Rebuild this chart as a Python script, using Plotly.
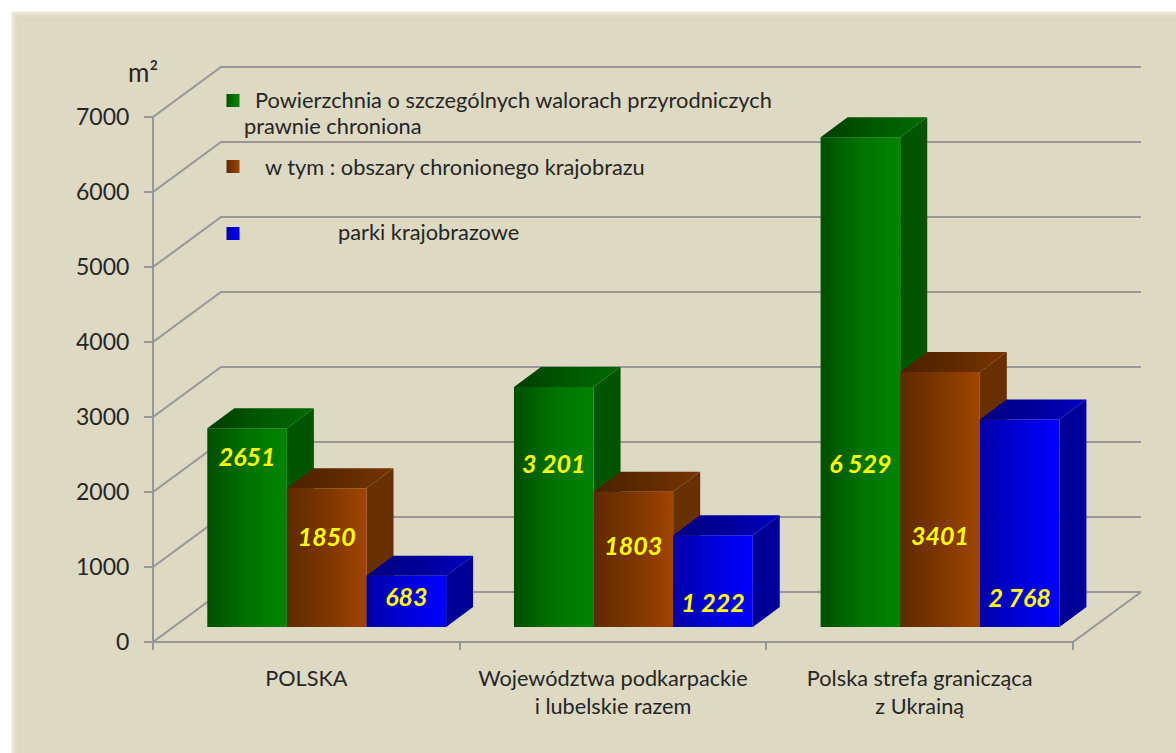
import plotly.graph_objects as go

# ---- data -------------------------------------------------------------
categories = ["POLSKA", "Województwa podkarpackie<br>i lubelskie razem", "Polska strefa granicząca<br>z Ukrainą"]
protected_total = [2651, 3201, 6529]
landscape_areas = [1850, 1803, 3401]
landscape_parks = [683, 1222, 2768]
total_labels = ["2651", "3 201", "6 529"]
areas_labels = ["1850", "1803", "3401"]
parks_labels = ["683", "1 222", "2 768"]
total_label_y = [2430, 2340, 2340]
areas_label_y = [1360, 1240, 1380]
parks_label_y = [560, 480, 550]
y_ticks = [0, 1000, 2000, 3000, 4000, 5000, 6000, 7000]

# ---- geometry / style --------------------------------------------------
W, H = 1176, 753
X0, X3, Y0, Y7 = 153, 1073, 642, 117      # pixel box of the front axes
PLOT_R, PLOT_T = 1150, 60                 # plot area extends over the back wall
PXU = (X3 - X0) / 3
PYU = (Y0 - Y7) / 7000
def xd(px): return (px - X0) / PXU
def yd(py): return (Y0 - py) / PYU
def px_x(px): return px / W
def px_y(py): return 1 - py / H

WALL_DX, WALL_DY = 68 / PXU, 50 / PYU
BAR_BASE = 15 / PYU
BAR_START = 54.3 / PXU
BAR_W = 79.6 / PXU
BAR_DX, BAR_DY = 27 / PXU, 20 / PYU
LINE = "#979797"
PANEL = "#DDD9C3"
TEXT = "#262626"
FONT = "Lato, Carlito, 'Open Sans', sans-serif"

STYLES = [
    dict(name="Powierzchnia o szczególnych walorach przyrodniczych prawnie chroniona",
         front=["#004F00", "#007200", "#008500"], top=["#003C00", "#005800", "#006A00"], side="#005500"),
    dict(name="w tym: obszary chronionego krajobrazu",
         front=["#5E2A00", "#7D3600", "#A04500"], top=["#4A2000", "#5F2A00", "#783400"], side="#682F00"),
    dict(name="parki krajobrazowe",
         front=["#0000A8", "#0000D8", "#0000FF"], top=["#000080", "#00009A", "#0000C0"], side="#000098"),
]
def scale(c): return [[0, c[0]], [0.5, c[1]], [1, c[2]]]

fig = go.Figure()

def poly(xs, ys, name, color=None, grad=None):
    kw = dict(x=xs + xs[:1], y=ys + ys[:1], mode="lines", line=dict(width=0), fill="toself",
              name=name, showlegend=False, hoverinfo="skip", cliponaxis=False)
    if grad:
        kw["fillgradient"] = dict(type="horizontal", colorscale=scale(grad))
        kw["fillcolor"] = grad[-1]
    else:
        kw["fillcolor"] = color
    fig.add_trace(go.Scatter(**kw))

# walls and floor
for v in y_ticks:
    fig.add_trace(go.Scatter(x=[0, WALL_DX, 3 + WALL_DX], y=[v, v + WALL_DY, v + WALL_DY], mode="lines",
                             line=dict(color=LINE, width=2), showlegend=False, hoverinfo="skip"))
fig.add_trace(go.Scatter(x=[3, 3 + WALL_DX], y=[0, WALL_DY], mode="lines",
                         line=dict(color=LINE, width=2), showlegend=False, hoverinfo="skip"))

# bars in painter's order
series = [protected_total, landscape_areas, landscape_parks]
for g in range(3):
    for s, vals in enumerate(series):
        st = STYLES[s]
        xl = g + BAR_START + s * BAR_W
        xr = xl + BAR_W
        yb = BAR_BASE
        yt = BAR_BASE + vals[g]
        poly([xr, xr + BAR_DX, xr + BAR_DX, xr], [yb, yb + BAR_DY, yt + BAR_DY, yt], st["name"], color=st["side"])
        poly([xl, xl + BAR_DX, xr + BAR_DX, xr], [yt, yt + BAR_DY, yt + BAR_DY, yt], st["name"], grad=st["top"])
        poly([xl, xr, xr, xl], [yb, yb, yt, yt], st["name"], grad=st["front"])

# data labels
all_labels = [total_labels, areas_labels, parks_labels]
all_label_y = [total_label_y, areas_label_y, parks_label_y]
for s in range(3):
    fig.add_trace(go.Scatter(
        x=[g + BAR_START + (s + 0.5) * BAR_W for g in range(3)],
        y=all_label_y[s], mode="text", text=all_labels[s], textposition="middle center",
        textfont=dict(family=FONT, size=25, color="#FFFF00", style="italic", weight="bold"),
        showlegend=False, hoverinfo="skip", cliponaxis=False))

# legend keys
KEYS = [(226.5, 94), (226.5, 160), (226.5, 227)]
for (kx, ky), st in zip(KEYS, STYLES):
    poly([xd(kx), xd(kx + 13), xd(kx + 13), xd(kx)], [yd(ky + 13), yd(ky + 13), yd(ky), yd(ky)],
         st["name"], grad=st["front"])

def note(text, x, y, size=21.8, anchor="left"):
    fig.add_annotation(text=text, x=px_x(x), y=px_y(y), xref="paper", yref="paper", showarrow=False,
                       xanchor=anchor, yanchor="middle", font=dict(family=FONT, size=size, color=TEXT),
                       align="left")

note("Powierzchnia o szczególnych walorach przyrodniczych", 253, 99)
note("prawnie chroniona", 242, 126)
note("w tym : obszary chronionego krajobrazu", 263, 166)
note("parki krajobrazowe", 336, 232)
note("m²", 126, 72, size=26)

# panel with soft edge
shapes = []
for i in range(9):
    shapes.append(dict(type="rect", xref="paper", yref="paper", layer="below",
                       x0=px_x(11 + i), x1=1.02, y0=-0.02, y1=px_y(11 + i),
                       fillcolor="rgba(218,214,190,0.30)", line=dict(width=0)))
shapes.append(dict(type="rect", xref="paper", yref="paper", layer="below",
                   x0=px_x(20), x1=1.02, y0=-0.02, y1=px_y(22),
                   fillcolor=PANEL, line=dict(width=0)))
# front axis lines (only as long as the value and category span)
shapes.append(dict(type="line", xref="paper", yref="paper", layer="below",
                   x0=px_x(X0), x1=px_x(X0), y0=px_y(Y0 + 1), y1=px_y(Y7 - 1), line=dict(color=LINE, width=2)))
shapes.append(dict(type="line", xref="paper", yref="paper", layer="below",
                   x0=px_x(X0 - 1), x1=px_x(X3 + 1), y0=px_y(Y0), y1=px_y(Y0), line=dict(color=LINE, width=2)))

fig.update_layout(
    width=W, height=H, margin=dict(l=0, r=0, t=0, b=0, autoexpand=False),
    paper_bgcolor="white", plot_bgcolor="rgba(0,0,0,0)", showlegend=False, shapes=shapes,
    xaxis=dict(domain=[X0 / W, PLOT_R / W], range=[0, xd(PLOT_R)], showgrid=False, zeroline=False,
               showline=False, automargin=False,
               tickmode="array", tickvals=[0.5, 1.5, 2.5], ticktext=categories, ticks="",
               ticklabelstandoff=21, tickfont=dict(family=FONT, size=21.7, color=TEXT),
               minor=dict(tickmode="array", tickvals=[0, 1, 2, 3], ticks="outside", ticklen=7,
                          tickwidth=2, tickcolor=LINE)),
    yaxis=dict(domain=[1 - Y0 / H, 1 - PLOT_T / H], range=[0, yd(PLOT_T)], showgrid=False, zeroline=False,
               showline=False, automargin=False,
               tickmode="array", tickvals=y_ticks, ticks="outside", ticklen=8, tickwidth=2, tickcolor=LINE,
               ticklabelstandoff=10, tickfont=dict(family=FONT, size=23, color=TEXT)),
)
fig.write_html("out.html", config={"displayModeBar": False}, post_script="document.body.style.margin='0';")
